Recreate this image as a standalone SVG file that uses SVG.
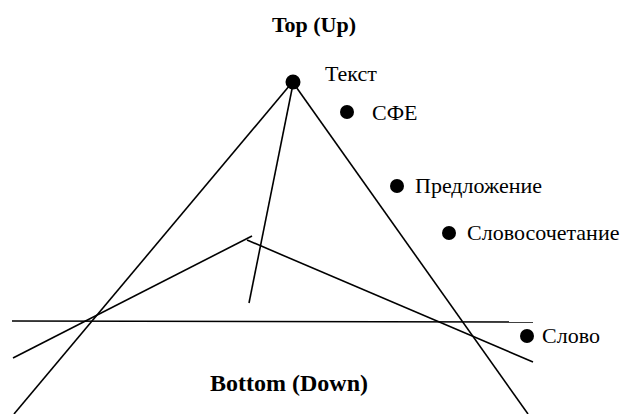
<svg xmlns="http://www.w3.org/2000/svg" width="620" height="414" viewBox="0 0 620 414">
<style>
.ln{stroke:#000;stroke-width:1.6;fill:none}
.dot{fill:#000}
text{font-family:'Liberation Serif','Times New Roman',serif;fill:#000}
.t{font-size:22px}
.b{font-weight:bold}
</style>
<rect width="620" height="414" fill="#fff"/>
<g id="connectors">
<line class="ln" x1="290" y1="85" x2="14" y2="414"/>
<line class="ln" x1="293" y1="84" x2="249" y2="303"/>
<line class="ln" x1="294" y1="84" x2="528" y2="414"/>
<line class="ln" x1="13" y1="358" x2="252" y2="236"/>
<line class="ln" x1="247" y1="240" x2="533" y2="362"/>
<line class="ln" x1="12" y1="321" x2="533" y2="322"/>
</g>
<g id="top-label"><text class="b" x="314" y="32" text-anchor="middle" font-size="22">Top (Up)</text></g>
<g id="bottom-label"><text class="b" x="289" y="391" text-anchor="middle" font-size="24">Bottom (Down)</text></g>
<g id="node-tekst"><circle class="dot" cx="293" cy="82" r="7.5"/><text class="t" x="325" y="81">Текст</text></g>
<g id="node-sfe"><circle class="dot" cx="347" cy="112" r="7"/><text class="t" x="372" y="120">СФЕ</text></g>
<g id="node-predlozhenie"><circle class="dot" cx="397" cy="186" r="7"/><text class="t" x="415" y="193">Предложение</text></g>
<g id="node-slovosochetanie"><circle class="dot" cx="449" cy="233" r="7"/><text class="t" x="467" y="240">Словосочетание</text></g>
<g id="node-slovo"><circle class="dot" cx="527" cy="336" r="7"/><text class="t" x="542" y="343">Слово</text></g>
</svg>
